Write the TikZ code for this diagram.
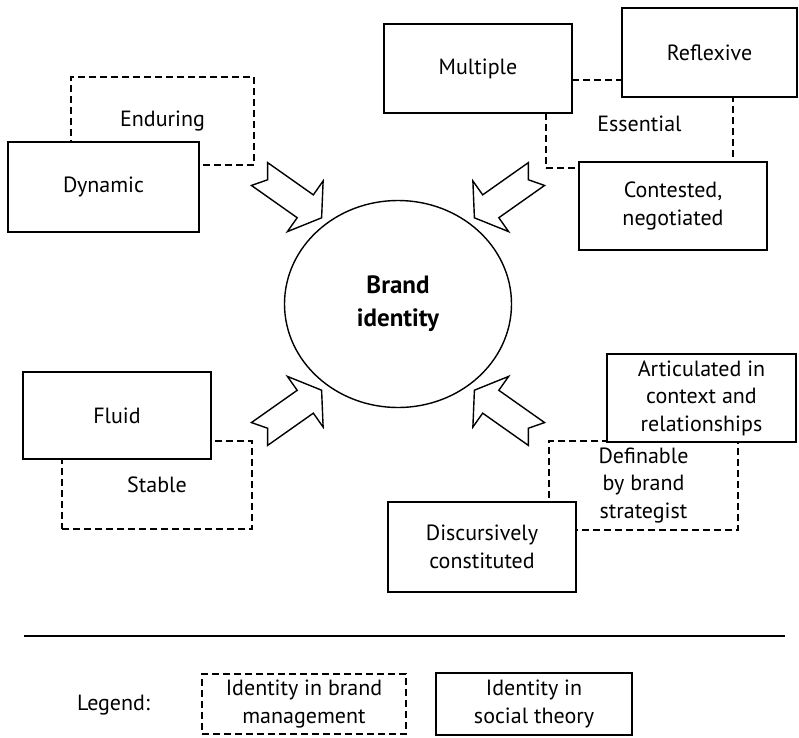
\documentclass[tikz,border=0pt]{standalone}
\usepackage{fontspec}
\setmainfont{PT Sans}
\usetikzlibrary{shapes.geometric}

\begin{document}
\begin{tikzpicture}[x=1pt, y=1pt,
  every node/.style={font=\fontsize{22}{27.5}\selectfont},
  socialTheory/.style={draw, line width=1.5pt, fill=white, minimum width=188pt, minimum height=88pt, align=center, inner sep=0pt},
  brandMgmt/.style={draw, line width=1.5pt, dash pattern=on 7pt off 4pt, minimum width=188pt, minimum height=88pt, align=center, inner sep=0pt},
  blockArrow/.style={draw, line width=1.4pt, fill=white, line join=miter}]
  \useasboundingbox (0,0) rectangle (799,-737);
  % brand management views, drawn first so the boxes cover them
  \node[brandMgmt, minimum width=183pt] (EN) at (162.5,-121) {Enduring};
  \node[brandMgmt, minimum width=190pt] (ST) at (157,-485) {Stable};
  \node[brandMgmt, minimum width=187pt] (ES) at (639.5,-124) {Essential};
  \node[brandMgmt, minimum width=189pt, minimum height=89pt] (DE) at (643.5,-485.5) {Definable\\by brand\\strategist};
  % social theory views
  \node[socialTheory, minimum width=191pt, minimum height=90pt] (DY) at (103.5,-187) {Dynamic};
  \node[socialTheory, minimum height=87pt] (FL) at (117,-415.5) {Fluid};
  \node[socialTheory, minimum height=89pt] (MU) at (478,-68.5) {Multiple};
  \node[socialTheory, minimum width=175pt, minimum height=89pt] (RE) at (709.5,-52.5) {Reflexive};
  \node[socialTheory] (CO) at (673,-206) {Contested,\\negotiated};
  \node[socialTheory, minimum width=189pt] (AR) at (701.5,-398) {Articulated in\\context and\\relationships};
  \node[socialTheory, minimum height=90pt] (DI) at (482,-547) {Discursively\\constituted};
  % centre
  \node[ellipse, draw, line width=1.4pt, minimum width=227pt, minimum height=207pt, inner sep=0pt, align=center, font=\fontsize{25}{33}\selectfont\bfseries] (brand) at (398,-304) {Brand\\identity};
  \foreach \sx/\sy in {1/1,-1/1,1/-1,-1/-1}
    \draw[blockArrow, shift={(brand.center)}, xscale=\sx, yscale=\sy, shift={(-138.5,130)}, rotate=-35.2]
      (0,14) -- (56,14) -- (56,31) -- (76,0) -- (56,-31) -- (56,-14) -- (0,-14) -- (10,0) -- cycle;
  % legend
  \draw[line width=1.6pt] (24,-636) -- (785,-636);
  \node (LG) at (113.5,-705) {Legend:};
  \node[brandMgmt, minimum width=204pt, minimum height=60pt] (LB) at (304,-704) {Identity in brand\\management};
  \node[socialTheory, minimum width=196pt, minimum height=62pt] (LS) at (534,-704) {Identity in\\social theory};
\end{tikzpicture}
\end{document}
